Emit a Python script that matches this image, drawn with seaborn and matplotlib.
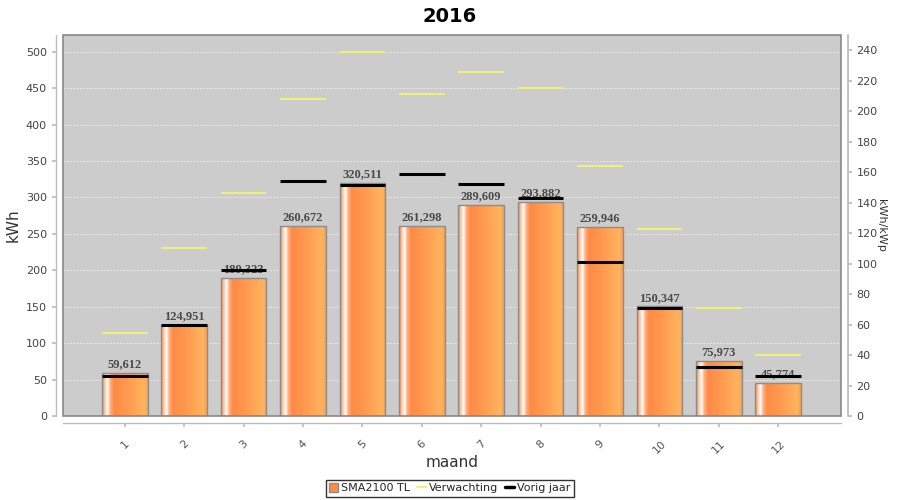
import matplotlib
matplotlib.use('Agg')
import matplotlib.pyplot as plt
import seaborn as sns
import numpy as np
import pandas as pd
from matplotlib.colors import LinearSegmentedColormap
from matplotlib.patches import Patch, Rectangle
from matplotlib.lines import Line2D

# data
maanden = ['1', '2', '3', '4', '5', '6', '7', '8', '9', '10', '11', '12']
opbrengst = [59.612, 124.951, 189.323, 260.672, 320.511, 261.298,
             289.609, 293.882, 259.946, 150.347, 75.973, 45.774]
verwachting = [113.6, 230.3, 305.9, 434.5, 499.1, 442.3,
               472.1, 449.6, 343.8, 256.9, 147.9, 83.3]
vorig_jaar = [54.9, 125.5, 200.1, 322.8, 317.3, 332.4,
              318.2, 299.0, 211.5, 148.8, 67.3, 54.5]
titel = '2016'

df = pd.DataFrame({'maand': maanden, 'kWh': opbrengst})

sns.set_theme(style='white')
plt.rcParams['font.family'] = ['DejaVu Sans']

fig = plt.figure(figsize=(9, 5), dpi=100)
ax = fig.add_axes([0.07, 0.168, 0.864, 0.762])
ax.set_facecolor('#cccccc')

bar_w = 0.77
sns.barplot(data=df, x='maand', y='kWh', ax=ax, width=bar_w,
            color='#ff8c45', edgecolor='#8c8c8c', linewidth=1, zorder=2)

# gradient fill like the original bars
grad = LinearSegmentedColormap.from_list('bar', [
    (0.0, '#f08648'), (0.07, '#ffd2b4'), (0.12, '#ffffff'), (0.18, '#ffb080'),
    (0.26, '#ff8a45'), (0.55, '#ff9a50'), (0.92, '#ffb45e'), (1.0, '#f5a055')])
g = np.linspace(0, 1, 256).reshape(1, -1)
for p in ax.patches:
    x0, y0 = p.get_x(), p.get_y()
    im = ax.imshow(g, cmap=grad, aspect='auto', zorder=2.1,
                   extent=[x0, x0 + p.get_width(), y0, y0 + p.get_height()])
    im.set_clip_path(p)
    p.set_zorder(2.2)
    p.set_facecolor('none')

xs = np.arange(len(maanden))
for x, v in zip(xs, opbrengst):
    ax.annotate(f'{v:.3f}'.replace('.', ','), (x, v), xytext=(0, 2),
                textcoords='offset points', ha='center', va='bottom',
                fontsize=9, fontweight='bold', color='#4a4a4a',
                family='Liberation Serif', zorder=3)

ax.hlines(verwachting, xs - bar_w / 2, xs + bar_w / 2, color='#f4f46a',
          linewidth=1.3, zorder=4)
ax.hlines(vorig_jaar, xs - bar_w / 2, xs + bar_w / 2, color='black',
          linewidth=2.2, zorder=4)

ax.set_xlim(-1.04, 12.05)
ax.set_ylim(0, 523)
ax.set_yticks(np.arange(0, 501, 50))
ax.yaxis.grid(True, color='#f2f2f2', linestyle=(0, (2, 2)), linewidth=0.6)
ax.set_axisbelow(True)
ax.xaxis.grid(False)

for s in ['top', 'right']:
    ax.spines[s].set_visible(False)
ax.spines['left'].set_position(('outward', 5))
ax.spines['bottom'].set_position(('outward', 5))
for s in ['left', 'bottom']:
    ax.spines[s].set_color('#bdbdbd')
    ax.spines[s].set_linewidth(1)
ax.add_patch(Rectangle((0, 0), 1, 1, transform=ax.transAxes, fill=False,
                       edgecolor='#888888', linewidth=1.2, zorder=5, clip_on=False))

ax.tick_params(axis='both', colors='#bdbdbd', labelcolor='#444444',
               labelsize=8, length=3, direction='out', left=True, bottom=True)
ax.tick_params(axis='x', pad=8, labelcolor='#555555')
plt.setp(ax.get_xticklabels(), rotation=45, ha='center')
ax.set_xlabel('maand', fontsize=11, color='#333333', labelpad=0)
ax.set_ylabel('kWh', fontsize=11, color='#333333', labelpad=4)

ax2 = ax.twinx()
ax2.set_ylim(0, 250)
ax2.set_yticks(np.arange(0, 241, 20))
for s in ['top', 'left', 'bottom']:
    ax2.spines[s].set_visible(False)
ax2.spines['right'].set_position(('outward', 5))
ax2.spines['right'].set_color('#bdbdbd')
ax2.tick_params(axis='y', colors='#bdbdbd', labelcolor='#444444',
                labelsize=8, length=3, direction='out', right=True)
ax2.set_ylabel('kWh/kWp', fontsize=8, color='#333333', rotation=270, labelpad=6)

fig.suptitle(titel, x=0.5, y=0.985, fontsize=14, fontweight='bold', color='black')

handles = [Patch(facecolor='#ff8c45', edgecolor='#8c8c8c', label='SMA2100 TL'),
           Line2D([], [], color='#f4f46a', linewidth=1.5, label='Verwachting'),
           Line2D([], [], color='black', linewidth=2.5, label='Vorig jaar')]
leg = fig.legend(handles=handles, loc='lower center', bbox_to_anchor=(0.5, 0.0),
                 ncol=3, fontsize=8, frameon=True, fancybox=False, handlelength=0.8,
                 handleheight=0.8, handletextpad=0.3, columnspacing=0.6,
                 borderpad=0.3, borderaxespad=0.3)
leg.get_frame().set_edgecolor('black')
leg.get_frame().set_linewidth(1)

fig.savefig('out.png', dpi=100, facecolor='white')
